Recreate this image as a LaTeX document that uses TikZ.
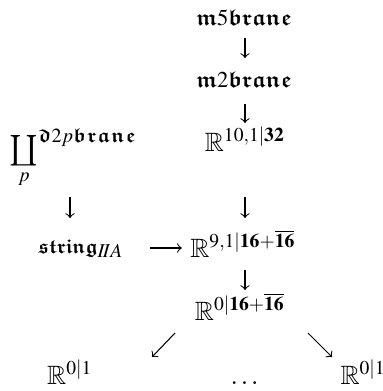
\documentclass[tikz,border=0pt]{standalone}
\usepackage{amsmath}
\usepackage{graphicx}
\usepackage{mathptmx}
\usepackage{amssymb}
\usetikzlibrary{calc}
% mathptmx has no coproduct sign: take it from cmex
\DeclareSymbolFont{cmlarge}{OMX}{cmex}{m}{n}
\DeclareMathSymbol{\coprodop}{\mathop}{cmlarge}{"60}
% bold Euler Fraktur for the brane names, set to a given width
\DeclareMathAlphabet{\mathbfrak}{U}{euf}{b}{n}
\newcommand{\fkw}[2]{\text{\resizebox{#1}{!}{$#2$}}}
\begin{document}
\begin{tikzpicture}[x=0.3774pt,y=-0.3774pt,
  lbl/.style={inner sep=0pt, anchor=base},
  arr/.style={->, line width=0.4pt}]
\useasboundingbox (0,0) rectangle (383,391);
% objects
\node[lbl] (m5) at (244,25) {$\fkw{36pt}{\mathbfrak{m}5\mathbfrak{brane}}$};
\node[lbl] (m2) at (244,87) {$\fkw{36pt}{\mathbfrak{m}2\mathbfrak{brane}}$};
\node[lbl] (r10) at (245,151) {$\mathbb{R}^{10,1|\mathbf{32}}$};
\node[lbl, anchor=base west] (cop) at (9,158)
  {${\underset{p}{\mathop{\scalebox{1.15}{$\coprodop$}}}}^{\fkw{37pt}{\mathbfrak{d}2p\mathbfrak{brane}}}$};
\node[lbl, anchor=base west] (str) at (38,253) {$\fkw{22.3pt}{\mathbfrak{string}}_{I\!IA}$};
\node[lbl] (r9) at (243,257) {$\mathbb{R}^{9,1|\mathbf{16}+\overline{\mathbf{16}}}$};
\node[lbl] (r0) at (240,320) {$\mathbb{R}^{0|\mathbf{16}+\overline{\mathbf{16}}}$};
\node[lbl] (la) at (70,384) {$\mathbb{R}^{0|1}$};
\node[lbl] (dots) at (246,384) {$\dots$};
\node[lbl, anchor=base west] (lb) at (340,384) {$\mathbb{R}^{0|1}$};
% maps
\draw[arr] ($(m5.base)+(1,13)$) -- ($(m2.base)+(1,-29)$);
\draw[arr] ($(m2.base)+(1,17)$) -- ($(r10.base)+(0,-28)$);
\draw[arr] ($(cop.base west)+(61,39)$) -- ($(str.base west)+(32,-35)$);
\draw[arr] ($(r10.base)+(0,46)$) -- ($(r9.base)+(2,-39)$);
\draw[arr] ($(str.base east)+(26,-5)$) -- ($(r9.base west)+(-8,-9)$);
\draw[arr] ($(r9.base)+(2,13)$) -- ($(r0.base)+(5,-30)$);
\draw[arr] ($(r0.base)+(-65,13)$) -- ($(la.base)+(82,-27)$);
\draw[arr] ($(r0.base)+(68,13)$) -- ($(lb.base west)+(-8,-27)$);
\end{tikzpicture}
\end{document}
